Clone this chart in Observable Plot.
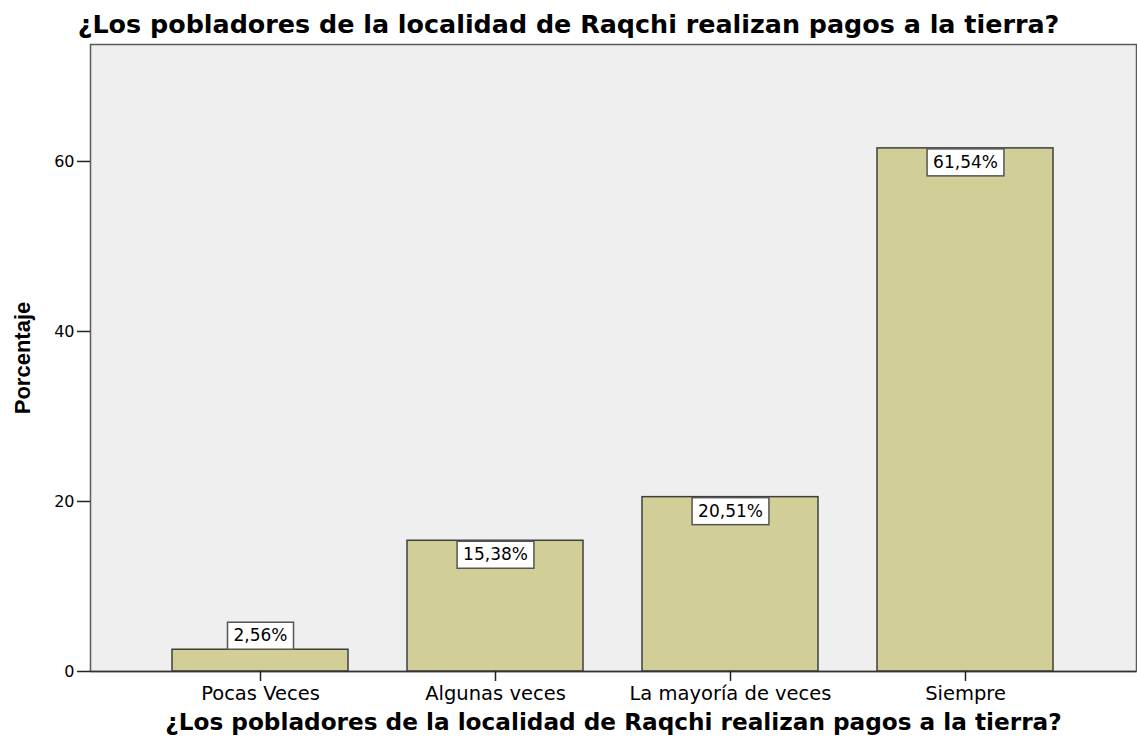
<!DOCTYPE html>
<html>
<head>
<meta charset="utf-8">
<script src="https://cdn.jsdelivr.net/npm/d3@7"></script>
<script src="https://cdn.jsdelivr.net/npm/@observablehq/plot@0.6"></script>
<style>
  body { margin: 0; background: #ffffff; }
  #title { width: 1137px; height: 40px; box-sizing: border-box; padding-top: 12px; text-align: center;
           font: bold 25.4px "DejaVu Sans", sans-serif; line-height: 1; color: #000; white-space: nowrap; }
  #chart svg { display: block; }
</style>
</head>
<body>
<div id="title"></div>
<div id="chart"></div>
<script>
const titleText = "¿Los pobladores de la localidad de Raqchi realizan pagos a la tierra?";
const xLabel = "¿Los pobladores de la localidad de Raqchi realizan pagos a la tierra?";
const yLabel = "Porcentaje";
const categories = ["Pocas Veces", "Algunas veces", "La mayoría de veces", "Siempre"];
const percentages = [2.56, 15.38, 20.51, 61.54];
const yTicks = [0, 20, 40, 60];

document.getElementById("title").textContent = titleText;

const data = categories.map((c, i) => ({category: c, value: percentages[i]}));
const fmt = v => v.toFixed(2).replace(".", ",") + "%";

const chart = Plot.plot({
  width: 1137,
  height: 702,
  marginTop: 4,
  marginBottom: 71,
  marginLeft: 90,
  marginRight: 1,
  style: {fontFamily: "DejaVu Sans, sans-serif", background: "#ffffff", color: "#000"},
  x: {domain: categories, paddingInner: 0.25, paddingOuter: 0.35, axis: null},
  y: {domain: [0, 73.76], axis: null},
  marks: [
    Plot.frame({fill: "#efefef", stroke: "#5a5a5a", strokeWidth: 1.5}),
    Plot.barY(data, {x: "category", y: "value", fill: "#d2ce97", stroke: "#3f3f3f", strokeWidth: 1.5}),
    Plot.ruleY([0], {stroke: "#333", strokeWidth: 1.5}),
    Plot.axisY({ticks: yTicks, tickSize: 13, tickPadding: 3, label: null, fontSize: 16, stroke: "#222", strokeWidth: 1.5, tickFormat: d => String(d)}),
    Plot.axisX({tickSize: 10, tickPadding: 5, label: null, fontSize: 19.5, stroke: "#222", strokeWidth: 1.5}),
    Plot.text(data.filter(d => d.value >= 5), {x: "category", y: "value", text: d => fmt(d.value), dy: 14, fontSize: 17, fill: "#000", className: "vlabel"}),
    Plot.text(data.filter(d => d.value < 5), {x: "category", y: "value", text: d => fmt(d.value), dy: -14, fontSize: 17, fill: "#000", className: "vlabel"}),
    Plot.text([xLabel], {frameAnchor: "bottom", dy: 58, text: d => d, fontSize: 23.2, fontWeight: "bold", fill: "#000"}),
    Plot.text([yLabel], {frameAnchor: "left", dx: -68, rotate: -90, textAnchor: "middle", text: d => d, fontSize: 22, fontWeight: "bold", fill: "#000", fontFamily: "Liberation Sans Narrow, Liberation Sans, sans-serif"})
  ]
});
document.getElementById("chart").appendChild(chart);

// white boxes behind the value labels
chart.querySelectorAll("g.vlabel text").forEach(t => {
  const bb = t.getBBox();
  const r = document.createElementNS("http://www.w3.org/2000/svg", "rect");
  r.setAttribute("x", bb.x - 6);
  r.setAttribute("width", bb.width + 12);
  r.setAttribute("y", -13.5);
  r.setAttribute("height", 27);
  r.setAttribute("fill", "#ffffff");
  r.setAttribute("stroke", "#555");
  r.setAttribute("stroke-width", 1.5);
  if (t.getAttribute("transform")) r.setAttribute("transform", t.getAttribute("transform"));
  t.parentNode.insertBefore(r, t);
});
</script>
</body>
</html>
